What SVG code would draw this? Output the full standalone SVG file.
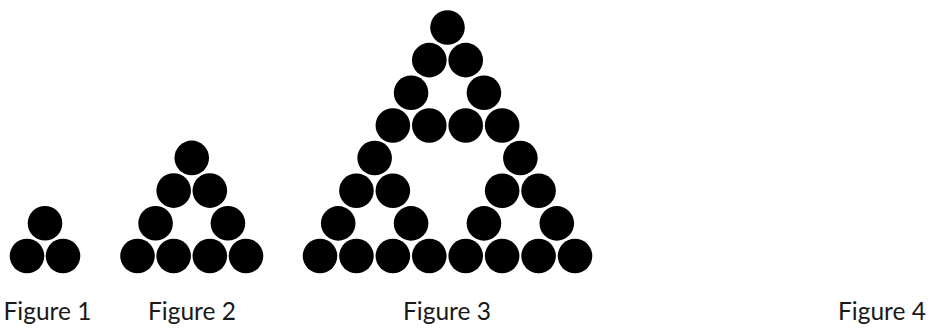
<svg xmlns="http://www.w3.org/2000/svg" width="933" height="328" viewBox="0 0 933 328">
<style>
circle{fill:#000}
.lbl{font-family:Lato,"Noto Sans","Liberation Sans",sans-serif;font-size:24.5px;fill:#1a1a1a;text-anchor:middle}
</style>
<rect width="933" height="328" fill="#fff"/>
<g id="figure1">
<circle cx="45" cy="223.3" r="17.3"/>
<circle cx="27" cy="256" r="17.3"/>
<circle cx="63" cy="256" r="17.3"/>
<text class="lbl" x="47.5" y="320">Figure 1</text>
</g>
<g id="figure2">
<circle cx="191.75" cy="157.9" r="17.3"/>
<circle cx="173.67" cy="190.6" r="17.3"/>
<circle cx="209.83" cy="190.6" r="17.3"/>
<circle cx="155.58" cy="223.3" r="17.3"/>
<circle cx="227.92" cy="223.3" r="17.3"/>
<circle cx="137.5" cy="256" r="17.3"/>
<circle cx="173.67" cy="256" r="17.3"/>
<circle cx="209.83" cy="256" r="17.3"/>
<circle cx="246" cy="256" r="17.3"/>
<text class="lbl" x="192" y="320">Figure 2</text>
</g>
<g id="figure3">
<circle cx="447.5" cy="27.5" r="17.3"/>
<circle cx="429.29" cy="60.14" r="17.3"/>
<circle cx="465.71" cy="60.14" r="17.3"/>
<circle cx="411.07" cy="92.79" r="17.3"/>
<circle cx="483.93" cy="92.79" r="17.3"/>
<circle cx="392.86" cy="125.43" r="17.3"/>
<circle cx="429.29" cy="125.43" r="17.3"/>
<circle cx="465.71" cy="125.43" r="17.3"/>
<circle cx="502.14" cy="125.43" r="17.3"/>
<circle cx="374.64" cy="158.07" r="17.3"/>
<circle cx="520.36" cy="158.07" r="17.3"/>
<circle cx="356.43" cy="190.71" r="17.3"/>
<circle cx="392.86" cy="190.71" r="17.3"/>
<circle cx="502.14" cy="190.71" r="17.3"/>
<circle cx="538.57" cy="190.71" r="17.3"/>
<circle cx="338.21" cy="223.36" r="17.3"/>
<circle cx="411.07" cy="223.36" r="17.3"/>
<circle cx="483.93" cy="223.36" r="17.3"/>
<circle cx="556.79" cy="223.36" r="17.3"/>
<circle cx="320" cy="256" r="17.3"/>
<circle cx="356.43" cy="256" r="17.3"/>
<circle cx="392.86" cy="256" r="17.3"/>
<circle cx="429.29" cy="256" r="17.3"/>
<circle cx="465.71" cy="256" r="17.3"/>
<circle cx="502.14" cy="256" r="17.3"/>
<circle cx="538.57" cy="256" r="17.3"/>
<circle cx="575" cy="256" r="17.3"/>
<text class="lbl" x="447" y="320">Figure 3</text>
</g>
<g id="figure4">
<text class="lbl" x="882" y="320">Figure 4</text>
</g>
</svg>
